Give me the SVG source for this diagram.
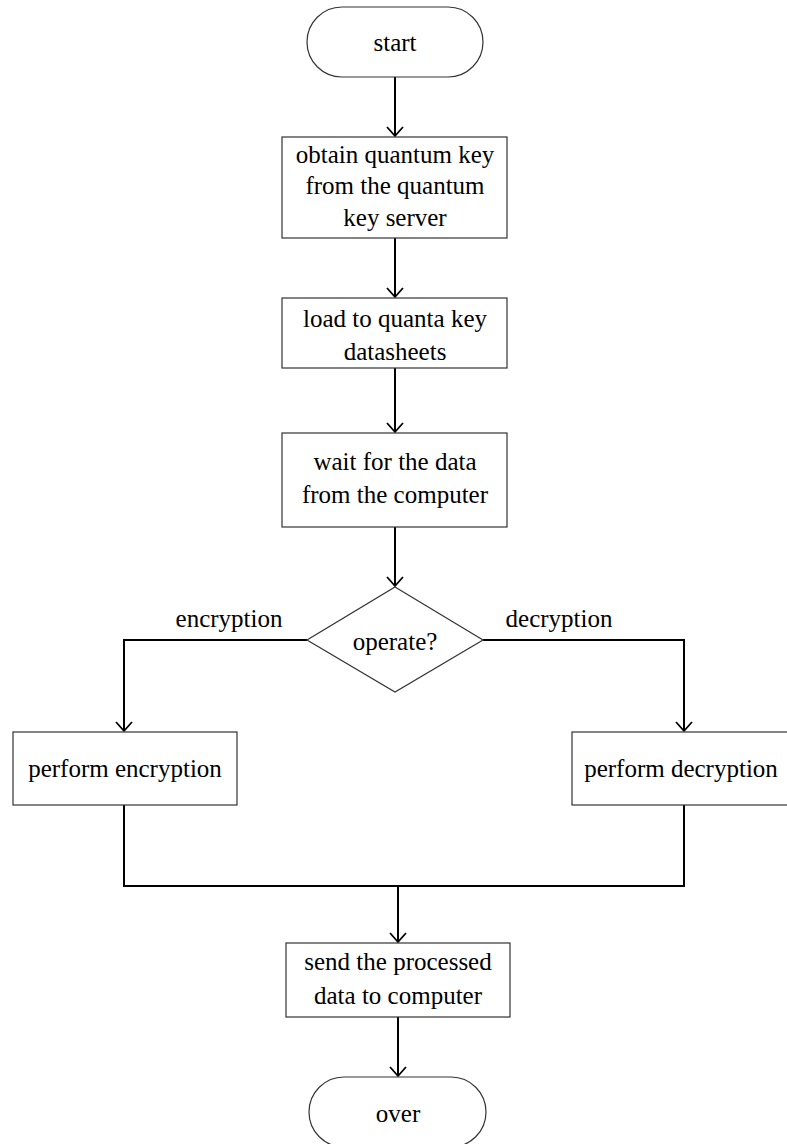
<svg xmlns="http://www.w3.org/2000/svg" width="787" height="1144" viewBox="0 0 787 1144">
<defs>
<marker id="arr" markerWidth="12" markerHeight="18" refX="10" refY="9" orient="auto" markerUnits="userSpaceOnUse" viewBox="0 0 12 18">
<path d="M1,1 L10,9 L1,17" fill="none" stroke="#000" stroke-width="1.8"/>
</marker>
<style>
.s{fill:#fff;stroke:#333;stroke-width:1.2}
.c{fill:none;stroke:#000;stroke-width:2}
.t{font-family:"Liberation Serif","Times New Roman",serif;font-size:25px;fill:#000;text-anchor:middle}
</style>
</defs>
<rect width="787" height="1144" fill="#fff"/>
<g id="connectors">
<path class="c" d="M395,77 V136" marker-end="url(#arr)"/>
<path class="c" d="M395,238 V297" marker-end="url(#arr)"/>
<path class="c" d="M395,368 V432" marker-end="url(#arr)"/>
<path class="c" d="M395,527 V586" marker-end="url(#arr)"/>
<path class="c" d="M307,640 H124 V731" marker-end="url(#arr)"/>
<path class="c" d="M483,640 H684 V731" marker-end="url(#arr)"/>
<path class="c" d="M124,805 V886 H684 V805"/>
<path class="c" d="M398,886 V942" marker-end="url(#arr)"/>
<path class="c" d="M398,1017 V1076" marker-end="url(#arr)"/>
<text class="t" x="229" y="627">encryption</text>
<text class="t" x="559" y="627">decryption</text>
</g>
<g id="start">
<rect class="s" x="307" y="7" width="176" height="70" rx="35"/>
<text class="t" x="395" y="51">start</text>
</g>
<g id="obtain">
<rect class="s" x="282" y="137" width="225" height="101"/>
<text class="t" x="395" y="163">obtain quantum key</text>
<text class="t" x="395" y="194">from the quantum</text>
<text class="t" x="395" y="226">key server</text>
</g>
<g id="load">
<rect class="s" x="282" y="298" width="225" height="70"/>
<text class="t" x="395" y="327">load to quanta key</text>
<text class="t" x="395" y="360">datasheets</text>
</g>
<g id="wait">
<rect class="s" x="282" y="433" width="225" height="94"/>
<text class="t" x="395" y="470">wait for the data</text>
<text class="t" x="395" y="503">from the computer</text>
</g>
<g id="operate">
<polygon class="s" points="395,587 483,640 395,692 307,640"/>
<text class="t" x="395" y="650">operate?</text>
</g>
<g id="encrypt">
<rect class="s" x="13" y="732" width="224" height="73"/>
<text class="t" x="125" y="777">perform encryption</text>
</g>
<g id="decrypt">
<rect class="s" x="572" y="732" width="230" height="73"/>
<text class="t" x="681" y="777">perform decryption</text>
</g>
<g id="send">
<rect class="s" x="286" y="943" width="224" height="74"/>
<text class="t" x="398" y="970">send the processed</text>
<text class="t" x="398" y="1004">data to computer</text>
</g>
<g id="over">
<rect class="s" x="309" y="1077" width="177" height="70" rx="35"/>
<text class="t" x="398" y="1122">over</text>
</g>
</svg>
